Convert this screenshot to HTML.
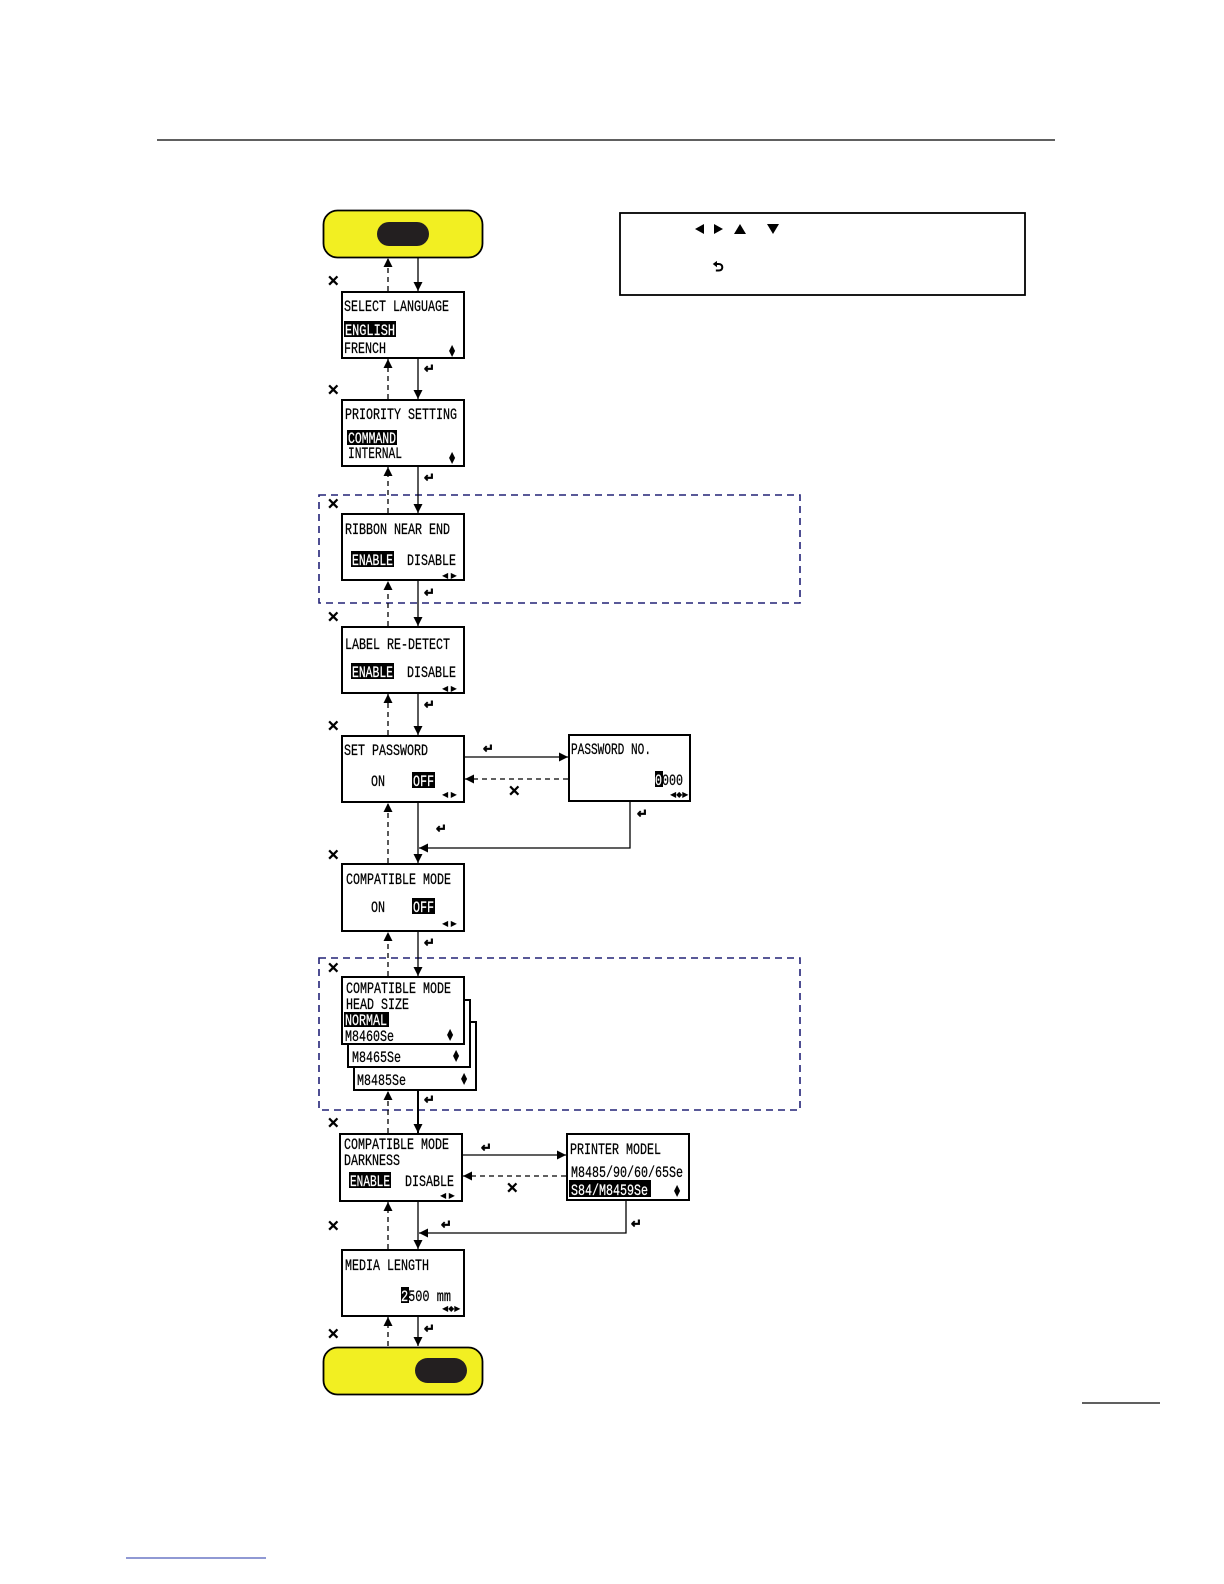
<!DOCTYPE html>
<html><head><meta charset="utf-8"><style>
html,body{margin:0;padding:0;background:#fff}
svg{display:block}
text{font-family:"Liberation Mono",monospace;font-size:16px;fill:#000;stroke:#000;stroke-width:0.25}
.x{font-family:"DejaVu Sans",sans-serif;font-size:15px;font-weight:bold;stroke-width:0.8}
.e{font-family:"DejaVu Sans",sans-serif;font-size:13px;font-weight:bold;stroke-width:0.6}
.s{font-family:"DejaVu Sans",sans-serif;font-size:8px;stroke-width:0}
.w{fill:#fff;stroke:#fff}
</style></head><body>
<svg width="1224" height="1584" viewBox="0 0 1224 1584" xmlns="http://www.w3.org/2000/svg">
<defs>
<marker id="a" viewBox="0 0 10 10" refX="10" refY="5" markerWidth="9" markerHeight="9" orient="auto-start-reverse" markerUnits="userSpaceOnUse"><path d="M0,0L10,5L0,10z" fill="#000"/></marker>
</defs>
<line x1="157" y1="140" x2="1055" y2="140" stroke="#000" stroke-width="1.2"/>
<line x1="1082" y1="1403" x2="1160" y2="1403" stroke="#000" stroke-width="1.2"/>
<line x1="126" y1="1558" x2="266" y2="1558" stroke="#2233aa" stroke-width="1"/>

<rect x="620" y="213" width="405" height="82" fill="none" stroke="#000" stroke-width="1.8"/>
<path d="M695,229l9,-5v10z M714,224l9,5l-9,5z M734,234l6,-10l6,10z M767,224h12l-6,10z" fill="#000"/>
<text x="713" y="271" class="e">⮌</text>

<rect x="319" y="495" width="481" height="108" fill="none" stroke="#222277" stroke-width="1.6" stroke-dasharray="7,5"/>
<rect x="319" y="958" width="481" height="152" fill="none" stroke="#222277" stroke-width="1.6" stroke-dasharray="7,5"/>

<rect x="323.5" y="210.5" width="159" height="47" rx="14" fill="#f2ef22" stroke="#000" stroke-width="1.8"/>
<rect x="377" y="222" width="52" height="24" rx="12" fill="#231f20"/>
<rect x="323.5" y="1347.5" width="159" height="47" rx="14" fill="#f2ef22" stroke="#000" stroke-width="1.8"/>
<rect x="415" y="1358" width="52" height="25" rx="12.5" fill="#231f20"/>

<g fill="#fff" stroke="#000" stroke-width="2">
<rect x="342" y="292" width="122" height="66"/>
<rect x="342" y="400" width="122" height="66"/>
<rect x="342" y="514" width="122" height="66"/>
<rect x="342" y="627" width="122" height="66"/>
<rect x="342" y="736" width="122" height="66"/>
<rect x="342" y="864" width="122" height="67"/>
<rect x="354" y="1022" width="122" height="68"/>
<rect x="348" y="1000" width="122" height="67"/>
<rect x="342" y="977" width="122" height="67"/>
<rect x="340" y="1134" width="122" height="67"/>
<rect x="342" y="1250" width="122" height="66"/>
<rect x="569" y="735" width="121" height="66"/>
<rect x="567" y="1134" width="122" height="66"/>
</g>

<g stroke="#000" stroke-width="1.3" fill="none">
<line x1="418" y1="257" x2="418" y2="291" marker-end="url(#a)"/>
<line x1="418" y1="358" x2="418" y2="399" marker-end="url(#a)"/>
<line x1="418" y1="466" x2="418" y2="513" marker-end="url(#a)"/>
<line x1="418" y1="580" x2="418" y2="626" marker-end="url(#a)"/>
<line x1="418" y1="693" x2="418" y2="735" marker-end="url(#a)"/>
<line x1="418" y1="802" x2="418" y2="863" marker-end="url(#a)"/>
<line x1="418" y1="931" x2="418" y2="976" marker-end="url(#a)"/>
<line x1="418" y1="1090" x2="418" y2="1133" marker-end="url(#a)" stroke-width="2"/>
<line x1="418" y1="1201" x2="418" y2="1249" marker-end="url(#a)"/>
<line x1="418" y1="1316" x2="418" y2="1346" marker-end="url(#a)"/>
<polyline points="630,801 630,848 419,848" marker-end="url(#a)"/>
<polyline points="626,1200 626,1233 419,1233" marker-end="url(#a)"/>
<line x1="464" y1="757" x2="568" y2="757" marker-end="url(#a)"/>
<line x1="462" y1="1155" x2="566" y2="1155" marker-end="url(#a)"/>
</g>
<g stroke="#000" stroke-width="1.3" fill="none" stroke-dasharray="5,4">
<line x1="388" y1="291" x2="388" y2="258" marker-end="url(#a)"/>
<line x1="388" y1="399" x2="388" y2="359" marker-end="url(#a)"/>
<line x1="388" y1="513" x2="388" y2="467" marker-end="url(#a)"/>
<line x1="388" y1="626" x2="388" y2="581" marker-end="url(#a)"/>
<line x1="388" y1="735" x2="388" y2="694" marker-end="url(#a)"/>
<line x1="388" y1="863" x2="388" y2="803" marker-end="url(#a)"/>
<line x1="388" y1="976" x2="388" y2="932" marker-end="url(#a)"/>
<line x1="388" y1="1133" x2="388" y2="1091" marker-end="url(#a)"/>
<line x1="388" y1="1249" x2="388" y2="1202" marker-end="url(#a)"/>
<line x1="388" y1="1346" x2="388" y2="1317" marker-end="url(#a)"/>
<line x1="568" y1="779" x2="465" y2="779" marker-end="url(#a)"/>
<line x1="566" y1="1176" x2="463" y2="1176" marker-end="url(#a)"/>
</g>

<text class="x" x="327" y="286">✕</text><text class="x" x="327" y="395">✕</text>
<text class="x" x="327" y="509">✕</text><text class="x" x="327" y="622">✕</text>
<text class="x" x="327" y="731">✕</text><text class="x" x="327" y="860">✕</text>
<text class="x" x="327" y="973">✕</text><text class="x" x="327" y="1128">✕</text>
<text class="x" x="327" y="1231">✕</text><text class="x" x="327" y="1339">✕</text>
<text class="x" x="508" y="796">✕</text><text class="x" x="506" y="1193">✕</text>

<text class="e" x="424" y="373">↵</text><text class="e" x="424" y="482">↵</text>
<text class="e" x="424" y="597">↵</text><text class="e" x="424" y="709">↵</text>
<text class="e" x="436" y="833">↵</text><text class="e" x="424" y="947">↵</text>
<text class="e" x="424" y="1104">↵</text><text class="e" x="441" y="1229">↵</text>
<text class="e" x="424" y="1333">↵</text><text class="e" x="483" y="753">↵</text>
<text class="e" x="637" y="818">↵</text><text class="e" x="481" y="1152">↵</text>
<text class="e" x="631" y="1228">↵</text>

<text x="344" y="311" textLength="105" lengthAdjust="spacingAndGlyphs">SELECT LANGUAGE</text>
<rect x="344" y="321" width="52" height="16" fill="#000"/>
<text class="w" x="345" y="335" textLength="50" lengthAdjust="spacingAndGlyphs">ENGLISH</text>
<text x="344" y="353" textLength="42" lengthAdjust="spacingAndGlyphs">FRENCH</text>

<text x="345" y="419" textLength="112" lengthAdjust="spacingAndGlyphs">PRIORITY SETTING</text>
<rect x="347" y="430" width="50" height="15" fill="#000"/>
<text class="w" x="348" y="443" textLength="48" lengthAdjust="spacingAndGlyphs">COMMAND</text>
<text x="348" y="458" textLength="54" lengthAdjust="spacingAndGlyphs">INTERNAL</text>

<text x="345" y="534" textLength="105" lengthAdjust="spacingAndGlyphs">RIBBON NEAR END</text>
<rect x="351" y="551" width="43" height="16" fill="#000"/>
<text class="w" x="352" y="565" textLength="41" lengthAdjust="spacingAndGlyphs">ENABLE</text>
<text x="407" y="565" textLength="49" lengthAdjust="spacingAndGlyphs">DISABLE</text>

<text x="345" y="649" textLength="105" lengthAdjust="spacingAndGlyphs">LABEL RE-DETECT</text>
<rect x="351" y="663" width="43" height="16" fill="#000"/>
<text class="w" x="352" y="677" textLength="41" lengthAdjust="spacingAndGlyphs">ENABLE</text>
<text x="407" y="677" textLength="49" lengthAdjust="spacingAndGlyphs">DISABLE</text>

<text x="344" y="755" textLength="84" lengthAdjust="spacingAndGlyphs">SET PASSWORD</text>
<text x="371" y="786" textLength="14" lengthAdjust="spacingAndGlyphs">ON</text>
<rect x="412" y="772" width="23" height="16" fill="#000"/>
<text class="w" x="413" y="786" textLength="21" lengthAdjust="spacingAndGlyphs">OFF</text>

<text x="571" y="754" textLength="80" lengthAdjust="spacingAndGlyphs">PASSWORD NO.</text>
<rect x="655" y="771" width="8" height="16" fill="#000"/>
<text x="655" y="785" textLength="28" lengthAdjust="spacingAndGlyphs"><tspan class="w">0</tspan>000</text>

<text x="346" y="884" textLength="105" lengthAdjust="spacingAndGlyphs">COMPATIBLE MODE</text>
<text x="371" y="912" textLength="14" lengthAdjust="spacingAndGlyphs">ON</text>
<rect x="412" y="898" width="23" height="16" fill="#000"/>
<text class="w" x="413" y="912" textLength="21" lengthAdjust="spacingAndGlyphs">OFF</text>

<text x="346" y="993" textLength="105" lengthAdjust="spacingAndGlyphs">COMPATIBLE MODE</text>
<text x="346" y="1009" textLength="63" lengthAdjust="spacingAndGlyphs">HEAD SIZE</text>
<rect x="344" y="1012" width="45" height="15" fill="#000"/>
<text class="w" x="345" y="1025" textLength="42" lengthAdjust="spacingAndGlyphs">NORMAL</text>
<text x="345" y="1041" textLength="49" lengthAdjust="spacingAndGlyphs">M8460Se</text>
<text x="352" y="1062" textLength="49" lengthAdjust="spacingAndGlyphs">M8465Se</text>
<text x="357" y="1085" textLength="49" lengthAdjust="spacingAndGlyphs">M8485Se</text>

<text x="344" y="1149" textLength="105" lengthAdjust="spacingAndGlyphs">COMPATIBLE MODE</text>
<text x="344" y="1165" textLength="56" lengthAdjust="spacingAndGlyphs">DARKNESS</text>
<rect x="349" y="1172" width="42" height="16" fill="#000"/>
<text class="w" x="350" y="1186" textLength="40" lengthAdjust="spacingAndGlyphs">ENABLE</text>
<text x="405" y="1186" textLength="49" lengthAdjust="spacingAndGlyphs">DISABLE</text>

<text x="570" y="1154" textLength="91" lengthAdjust="spacingAndGlyphs">PRINTER MODEL</text>
<text x="571" y="1177" textLength="112" lengthAdjust="spacingAndGlyphs">M8485/90/60/65Se</text>
<rect x="569" y="1180" width="82" height="17" fill="#000"/>
<text class="w" x="571" y="1195" textLength="77" lengthAdjust="spacingAndGlyphs">S84/M8459Se</text>

<text x="345" y="1270" textLength="84" lengthAdjust="spacingAndGlyphs">MEDIA LENGTH</text>
<rect x="401" y="1287" width="8" height="16" fill="#000"/>
<text x="401" y="1301" textLength="50" lengthAdjust="spacingAndGlyphs"><tspan class="w">2</tspan>500 mm</text>

<text class="s" x="449" y="350">▲</text><text class="s" x="449" y="356">▼</text>
<text class="s" x="449" y="457">▲</text><text class="s" x="449" y="463">▼</text>
<text class="s" x="447" y="1034">▲</text><text class="s" x="447" y="1040">▼</text>
<text class="s" x="453" y="1055">▲</text><text class="s" x="453" y="1061">▼</text>
<text class="s" x="461" y="1078">▲</text><text class="s" x="461" y="1084">▼</text>
<text class="s" x="674" y="1190">▲</text><text class="s" x="674" y="1196">▼</text>
<text class="s" x="442" y="578">◀ ▶</text><text class="s" x="442" y="691">◀ ▶</text>
<text class="s" x="442" y="797">◀ ▶</text><text class="s" x="442" y="926">◀ ▶</text>
<text class="s" x="440" y="1198">◀ ▶</text>
<text class="s" x="670" y="797">◀◆▶</text>
<text class="s" x="442" y="1311">◀◆▶</text>
</svg>
</body></html>
